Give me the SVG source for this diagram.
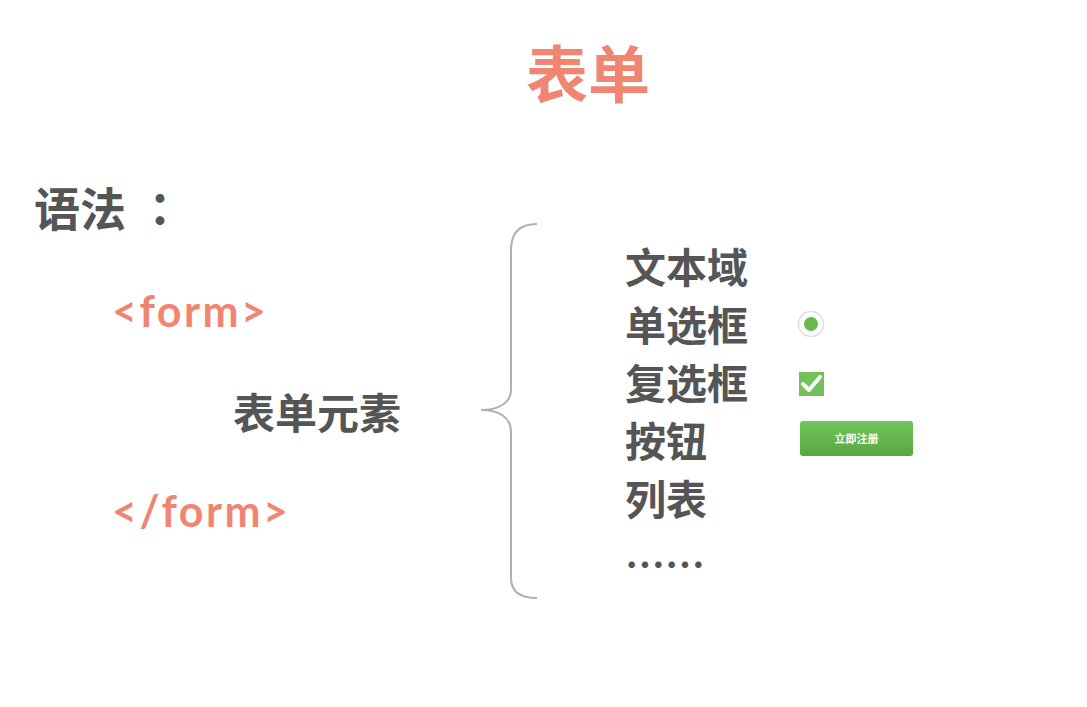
<svg xmlns="http://www.w3.org/2000/svg" width="1087" height="707" viewBox="0 0 1087 707">
<defs>
<style>
.salmon{fill:#f08672;}
.gray{fill:#555555;}
.cjk{font-family:"Noto Sans CJK SC","Noto Sans",sans-serif;font-weight:bold;}
.latin{font-family:"Lato","Open Sans",sans-serif;font-weight:bold;letter-spacing:2.5px;}
.brace{fill:none;stroke:#b0b0b0;stroke-width:2;}
</style>
<linearGradient id="btn" x1="0" y1="0" x2="0" y2="1">
<stop offset="0" stop-color="#74c45c"/>
<stop offset="1" stop-color="#56a742"/>
</linearGradient>
</defs>
<rect width="1087" height="707" fill="#ffffff"/>
<g id="title"><text class="cjk salmon" x="588" y="98" font-size="62" text-anchor="middle">表单</text></g>
<g id="syntax"><text class="cjk gray" x="34" y="226" font-size="46">语法<tspan x="137" font-family="Noto Sans CJK TC, sans-serif">：</tspan></text></g>
<g id="form-open"><text class="latin salmon" x="112" y="327" font-size="43">&lt;form&gt;</text></g>
<g id="elements"><text class="cjk gray" x="233" y="429" font-size="42">表单元素</text></g>
<g id="form-close"><text class="latin salmon" x="112" y="527" font-size="43">&lt;/form&gt;</text></g>
<g id="connectors">
<path class="brace" d="M537,224 C520,224 511,232 511,250 L511,390 C511,402 500,410 481,410 C500,410 511,418 511,432 L511,578 C511,592 520,598 537,598"/>
</g>
<g id="list">
<text class="cjk gray" x="625" y="283" font-size="41">文本域</text>
<text class="cjk gray" x="625" y="341" font-size="41">单选框</text>
<text class="cjk gray" x="625" y="399" font-size="41">复选框</text>
<text class="cjk gray" x="625" y="457" font-size="41">按钮</text>
<text class="cjk gray" x="625" y="515" font-size="41">列表</text>
<text class="cjk gray" x="625" y="580" font-size="40">……</text>
</g>
<g id="radio">
<circle cx="811" cy="324" r="12.500" fill="#ffffff" stroke="#dddddd" stroke-width="1.500"/>
<circle cx="811" cy="324" r="7" fill="#6ab84f"/>
</g>
<g id="checkbox">
<rect x="799" y="372" width="25" height="24" fill="#72c05a"/>
<path d="M803,384 L809,390 L820,377" fill="none" stroke="#ffffff" stroke-width="4" stroke-linecap="round" stroke-linejoin="round"/>
</g>
<g id="button">
<rect x="800" y="421" width="113" height="35" rx="3" fill="url(#btn)"/>
<text class="cjk" x="856.500" y="443" font-size="11" fill="#ffffff" text-anchor="middle">立即注册</text>
</g>
</svg>
